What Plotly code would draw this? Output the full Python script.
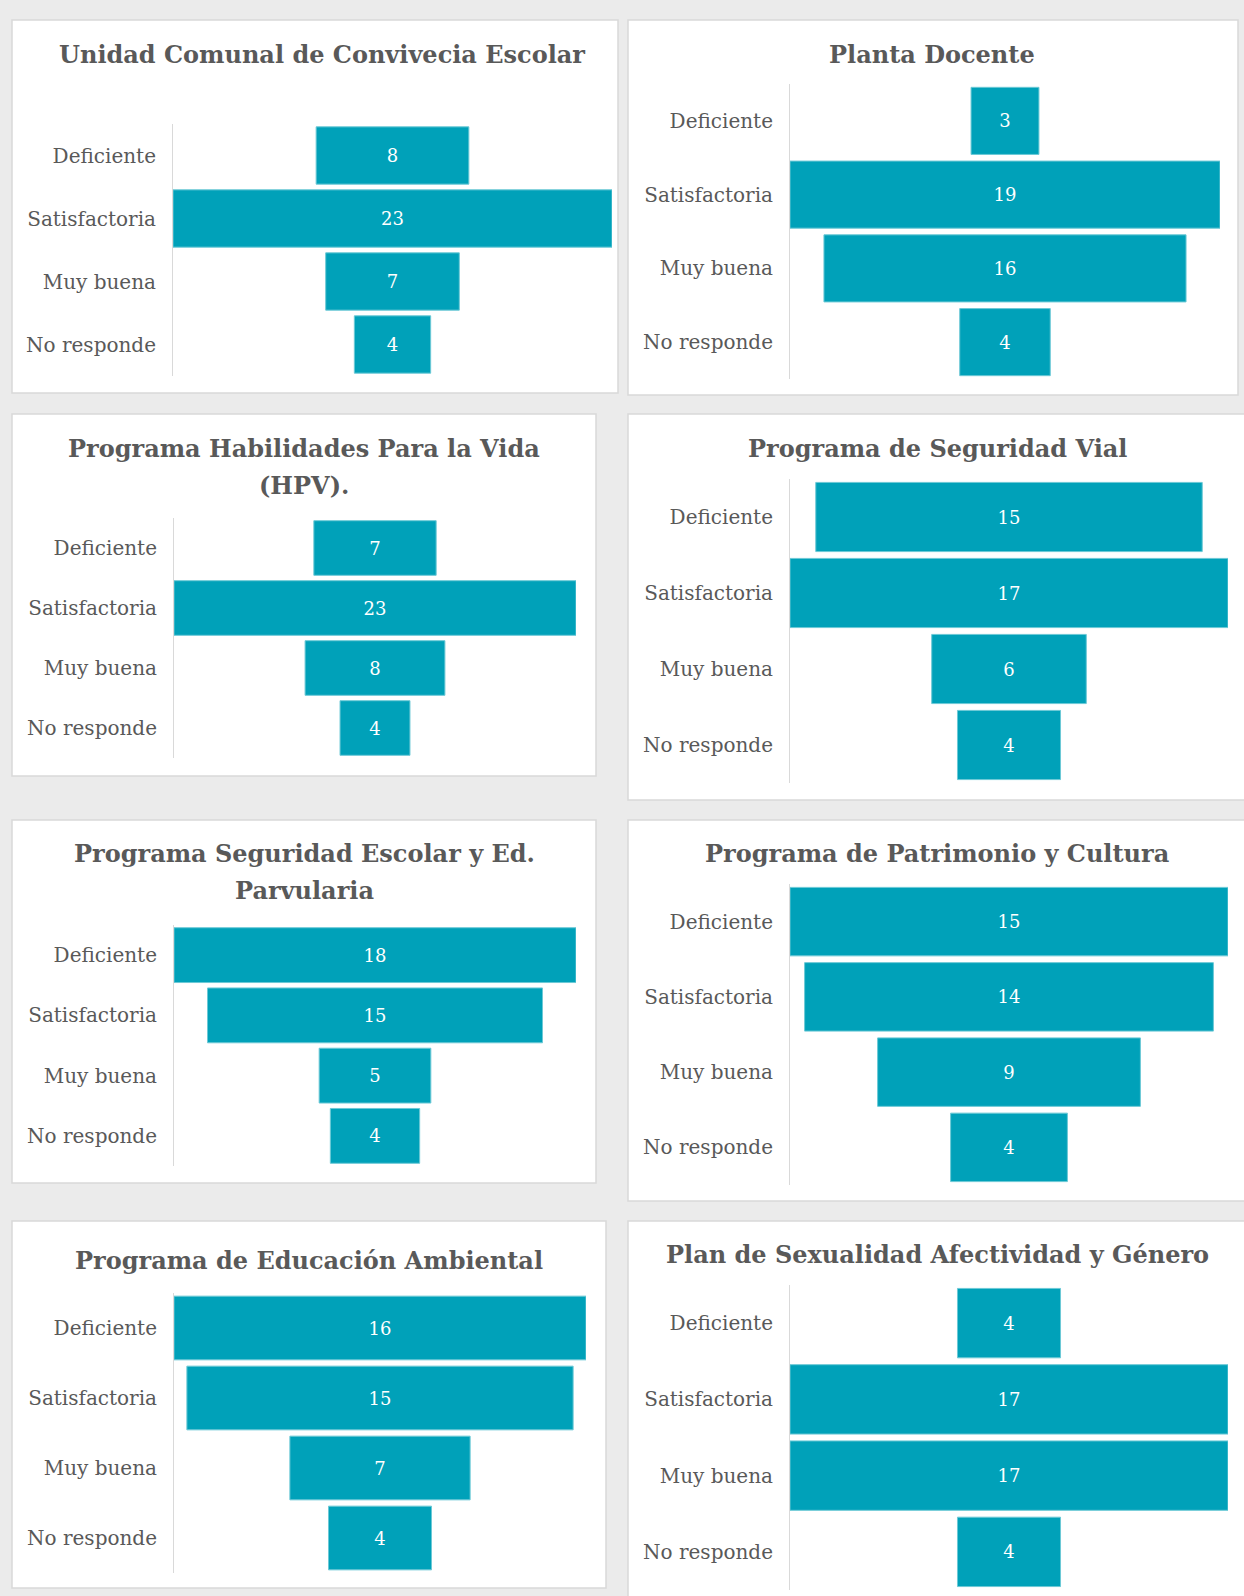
import plotly.graph_objects as go

# ---------------- data ----------------
categories = ["Deficiente", "Satisfactoria", "Muy buena", "No responde"]

titles = [
    "Unidad Comunal de Convivecia Escolar",
    "Planta Docente",
    "Programa Habilidades Para la Vida<br>(HPV).",
    "Programa de Seguridad Vial",
    "Programa Seguridad Escolar y Ed.<br>Parvularia",
    "Programa de Patrimonio y Cultura",
    "Programa de Educación Ambiental",
    "Plan de Sexualidad Afectividad y Género",
]

values_convivencia = [8, 23, 7, 4]
values_planta = [3, 19, 16, 4]
values_hpv = [7, 23, 8, 4]
values_vial = [15, 17, 6, 4]
values_seg_escolar = [18, 15, 5, 4]
values_patrimonio = [15, 14, 9, 4]
values_ambiental = [16, 15, 7, 4]
values_sexualidad = [4, 17, 17, 4]

series = [values_convivencia, values_planta, values_hpv, values_vial,
          values_seg_escolar, values_patrimonio, values_ambiental, values_sexualidad]

# ---------------- layout geometry (pixels) ----------------
W, H = 1244, 1596
# panel box: (x0, y0, x1, y1)
panel_boxes = [
    (12, 20, 618, 393), (628, 20, 1238, 395),
    (12, 414, 596, 776), (628, 414, 1250, 800),
    (12, 820, 596, 1183), (628, 820, 1250, 1201),
    (12, 1221, 606, 1588), (628, 1221, 1250, 1600),
]
# plot area: (x0, x1, y0, y1)
plot_boxes = [
    (173, 612, 124, 376), (790, 1220, 84, 379),
    (174, 576, 518, 758), (790, 1228, 479, 783),
    (174, 576, 925, 1166), (790, 1228, 884, 1185),
    (174, 586, 1293, 1573), (790, 1228, 1285, 1590),
]
# title center (x, y of first line)
title_pos = [
    (322, 54), (932, 54),
    (304, 448), (937, 448),
    (304, 853), (937, 853),
    (309, 1260), (937, 1254),
]
TITLE_LINE_GAP = 37

BAR = "#00A1B9"
LABEL = "#595959"
LABEL_FONT = "DejaVu Serif"
TITLE_FONT = "DejaVu Serif"


def px(x):
    return x / W


def py(y):
    return 1 - y / H


fig = go.Figure()
layout_axes = {}
shapes = []
annotations = []

for i, vals in enumerate(series):
    n = i + 1
    xa = "x" if n == 1 else f"x{n}"
    ya = "y" if n == 1 else f"y{n}"
    fig.add_trace(go.Funnel(
        x=vals, y=categories, xaxis=xa, yaxis=ya,
        textinfo="value", textposition="inside", insidetextanchor="middle",
        textfont=dict(family=LABEL_FONT, size=18, color="white"),
        marker=dict(color=BAR, line=dict(color="#6cc9d6", width=1)),
        connector=dict(visible=False),
        hoverinfo="skip", showlegend=False,
    ))
    x0, x1, y0, y1 = plot_boxes[i]
    m = max(vals)
    layout_axes[f"xaxis{'' if n == 1 else n}"] = dict(
        domain=[px(x0), px(x1)], range=[-m / 2, m / 2],
        visible=False, fixedrange=True, anchor=ya,
    )
    layout_axes[f"yaxis{'' if n == 1 else n}"] = dict(
        domain=[py(y1), py(y0)], type="category",
        range=[3.5, -0.5], autorange=False,
        showline=True, linecolor="#d9d9d9", linewidth=1,
        showgrid=False, zeroline=False, ticks="",
        ticklabelstandoff=12, fixedrange=True,
        tickfont=dict(family=LABEL_FONT, size=20, color=LABEL),
        anchor=xa,
    )
    bx0, by0, bx1, by1 = panel_boxes[i]
    shapes.append(dict(
        type="rect", xref="paper", yref="paper",
        x0=px(bx0), x1=px(bx1), y0=py(by1), y1=py(by0),
        fillcolor="white", line=dict(color="#d9d9d9", width=1.5), layer="below",
    ))
    tx, ty = title_pos[i]
    for k, line in enumerate(titles[i].split("<br>")):
        annotations.append(dict(
            text=f"<b>{line}</b>", xref="paper", yref="paper",
            x=px(tx), y=py(ty + k * TITLE_LINE_GAP), xanchor="center", yanchor="middle",
            showarrow=False, align="center",
            font=dict(family=TITLE_FONT, size=24, color=LABEL),
        ))

fig.update_layout(
    width=W, height=H,
    margin=dict(l=0, r=0, t=0, b=0),
    paper_bgcolor="#ebebeb",
    plot_bgcolor="rgba(0,0,0,0)",
    funnelgap=0.09,
    shapes=shapes,
    annotations=annotations,
    **layout_axes,
)

fig.write_html(
    "out.html",
    config={"displayModeBar": False},
    post_script="document.body.style.margin='0';document.body.style.background='#ebebeb';",
)
